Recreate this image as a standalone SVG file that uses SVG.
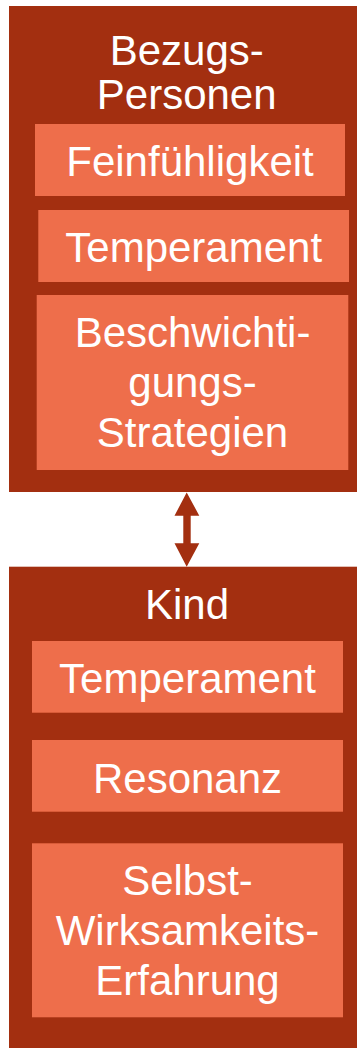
<svg xmlns="http://www.w3.org/2000/svg" width="357" height="1048" viewBox="0 0 357 1048">
<style>
.outer{fill:#A32F10}
.inner{fill:#EE6E4B}
text{font-family:"Liberation Sans",Arial,sans-serif;font-size:42px;fill:#FFFFFF;text-anchor:middle}
</style>
<rect width="357" height="1048" fill="#FFFFFF"/>
<g id="bezugspersonen">
<rect class="outer" x="9" y="6" width="348" height="486"/>
<text x="186.7" y="65">Bezugs-</text>
<text x="186.7" y="108.5">Personen</text>
</g>
<g id="feinfuehligkeit">
<rect class="inner" x="35" y="124" width="310" height="72"/>
<text x="190" y="175.7">Feinfühligkeit</text>
</g>
<g id="temperament-bezug">
<rect class="inner" x="38.3" y="210" width="310.7" height="72"/>
<text x="193.7" y="261.7">Temperament</text>
</g>
<g id="beschwichtigung">
<rect class="inner" x="36.7" y="295" width="311.6" height="175"/>
<text x="192.5" y="346.7">Beschwichti-</text>
<text x="192.5" y="396.7">gungs-</text>
<text x="192.5" y="446.7">Strategien</text>
</g>
<g id="kind">
<rect class="outer" x="9" y="566.7" width="348" height="481.3"/>
<text x="187" y="619.3">Kind</text>
</g>
<g id="temperament-kind">
<rect class="inner" x="32" y="641" width="311" height="71.7"/>
<text x="187.5" y="692.7">Temperament</text>
</g>
<g id="resonanz">
<rect class="inner" x="32" y="740" width="311" height="71.7"/>
<text x="187.5" y="793.3">Resonanz</text>
</g>
<g id="selbstwirksamkeit">
<rect class="inner" x="32" y="843.3" width="311" height="174"/>
<text x="187.5" y="895">Selbst-</text>
<text x="187.5" y="945">Wirksamkeits-</text>
<text x="187.5" y="995">Erfahrung</text>
</g>
<g id="connectors">
<polygon class="outer" points="186.7,492.5 199.3,515.7 190.7,515.7 190.7,543.3 199.3,543.3 186.7,566.7 174.5,543.3 183.3,543.3 183.3,515.7 174.5,515.7"/>
</g>
</svg>
